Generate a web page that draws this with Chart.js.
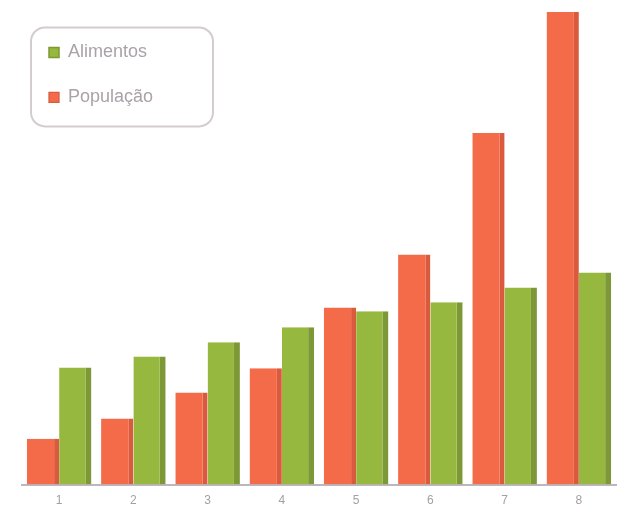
<!DOCTYPE html>
<html>
<head>
<meta charset="utf-8">
<script src="https://cdn.jsdelivr.net/npm/chart.js@4"></script>
<style>
  html, body { margin: 0; padding: 0; background: #fff; }
  #wrap { width: 617px; height: 511px; }
</style>
</head>
<body>
<div id="wrap"><canvas id="barChart"></canvas></div>
<script>
const labels = ['1', '2', '3', '4', '5', '6', '7', '8'];
const populacao = [9.7, 14.0, 19.5, 24.6, 37.5, 48.7, 74.4, 100];
const alimentos = [24.8, 27.1, 30.1, 33.3, 36.7, 38.6, 41.7, 44.9];

// rounded frame around the legend
const legendFrame = {
    id: 'legendFrame',
    afterDraw(chart) {
        const hb = chart.legend.legendHitBoxes;
        if (!hb || !hb.length) return;
        const ctx = chart.ctx;
        const x = hb[0].left - 18;
        const y = hb[0].top - 16;
        const w = 182;
        const h = hb[hb.length - 1].top + hb[hb.length - 1].height + 20 - y;
        ctx.save();
        ctx.strokeStyle = '#d3ccd1';
        ctx.lineWidth = 2;
        ctx.beginPath();
        ctx.roundRect(x, y, w, h, 14);
        ctx.stroke();
        ctx.restore();
    }
};

const ctx = document.getElementById('barChart').getContext('2d');
const chart = new Chart(ctx, {
    type: 'bar',
    data: {
        labels: labels,
        datasets: [
            {
                label: 'População',
                data: populacao,
                backgroundColor: '#f36b48',
                borderColor: '#d95a3c',
                borderWidth: { right: 5, left: 0, top: 0, bottom: 0 },
                borderSkipped: false
            },
            {
                label: 'Alimentos',
                data: alimentos,
                backgroundColor: '#97b83e',
                borderColor: '#7d9836',
                borderWidth: { right: 6, left: 0, top: 0, bottom: 0 },
                borderSkipped: false
            }
        ]
    },
    options: {
        responsive: true,
        maintainAspectRatio: false,
        animation: false,
        layout: { padding: { left: 22, right: 1, top: 12, bottom: -6 } },
        datasets: {
            bar: { categoryPercentage: 0.87, barPercentage: 1 }
        },
        scales: {
            x: {
                grid: { display: false, drawTicks: false },
                border: { display: true, color: '#bdb6bc', width: 2 },
                ticks: { color: '#a59ea4', font: { family: 'Liberation Sans', size: 12 }, padding: 9 }
            },
            y: {
                display: false,
                min: 0,
                max: 100
            }
        },
        plugins: {
            legend: {
                position: 'chartArea',
                align: 'start',
                reverse: true,
                title: { display: true, text: ' ', padding: 1, font: { size: 12 } },
                labels: {
                    boxWidth: 10,
                    boxHeight: 10,
                    padding: 27,
                    color: '#aaa2a8',
                    font: { family: 'Liberation Sans', size: 18 }
                }
            },
            tooltip: { enabled: false }
        }
    },
    plugins: [legendFrame]
});
</script>
</body>
</html>
